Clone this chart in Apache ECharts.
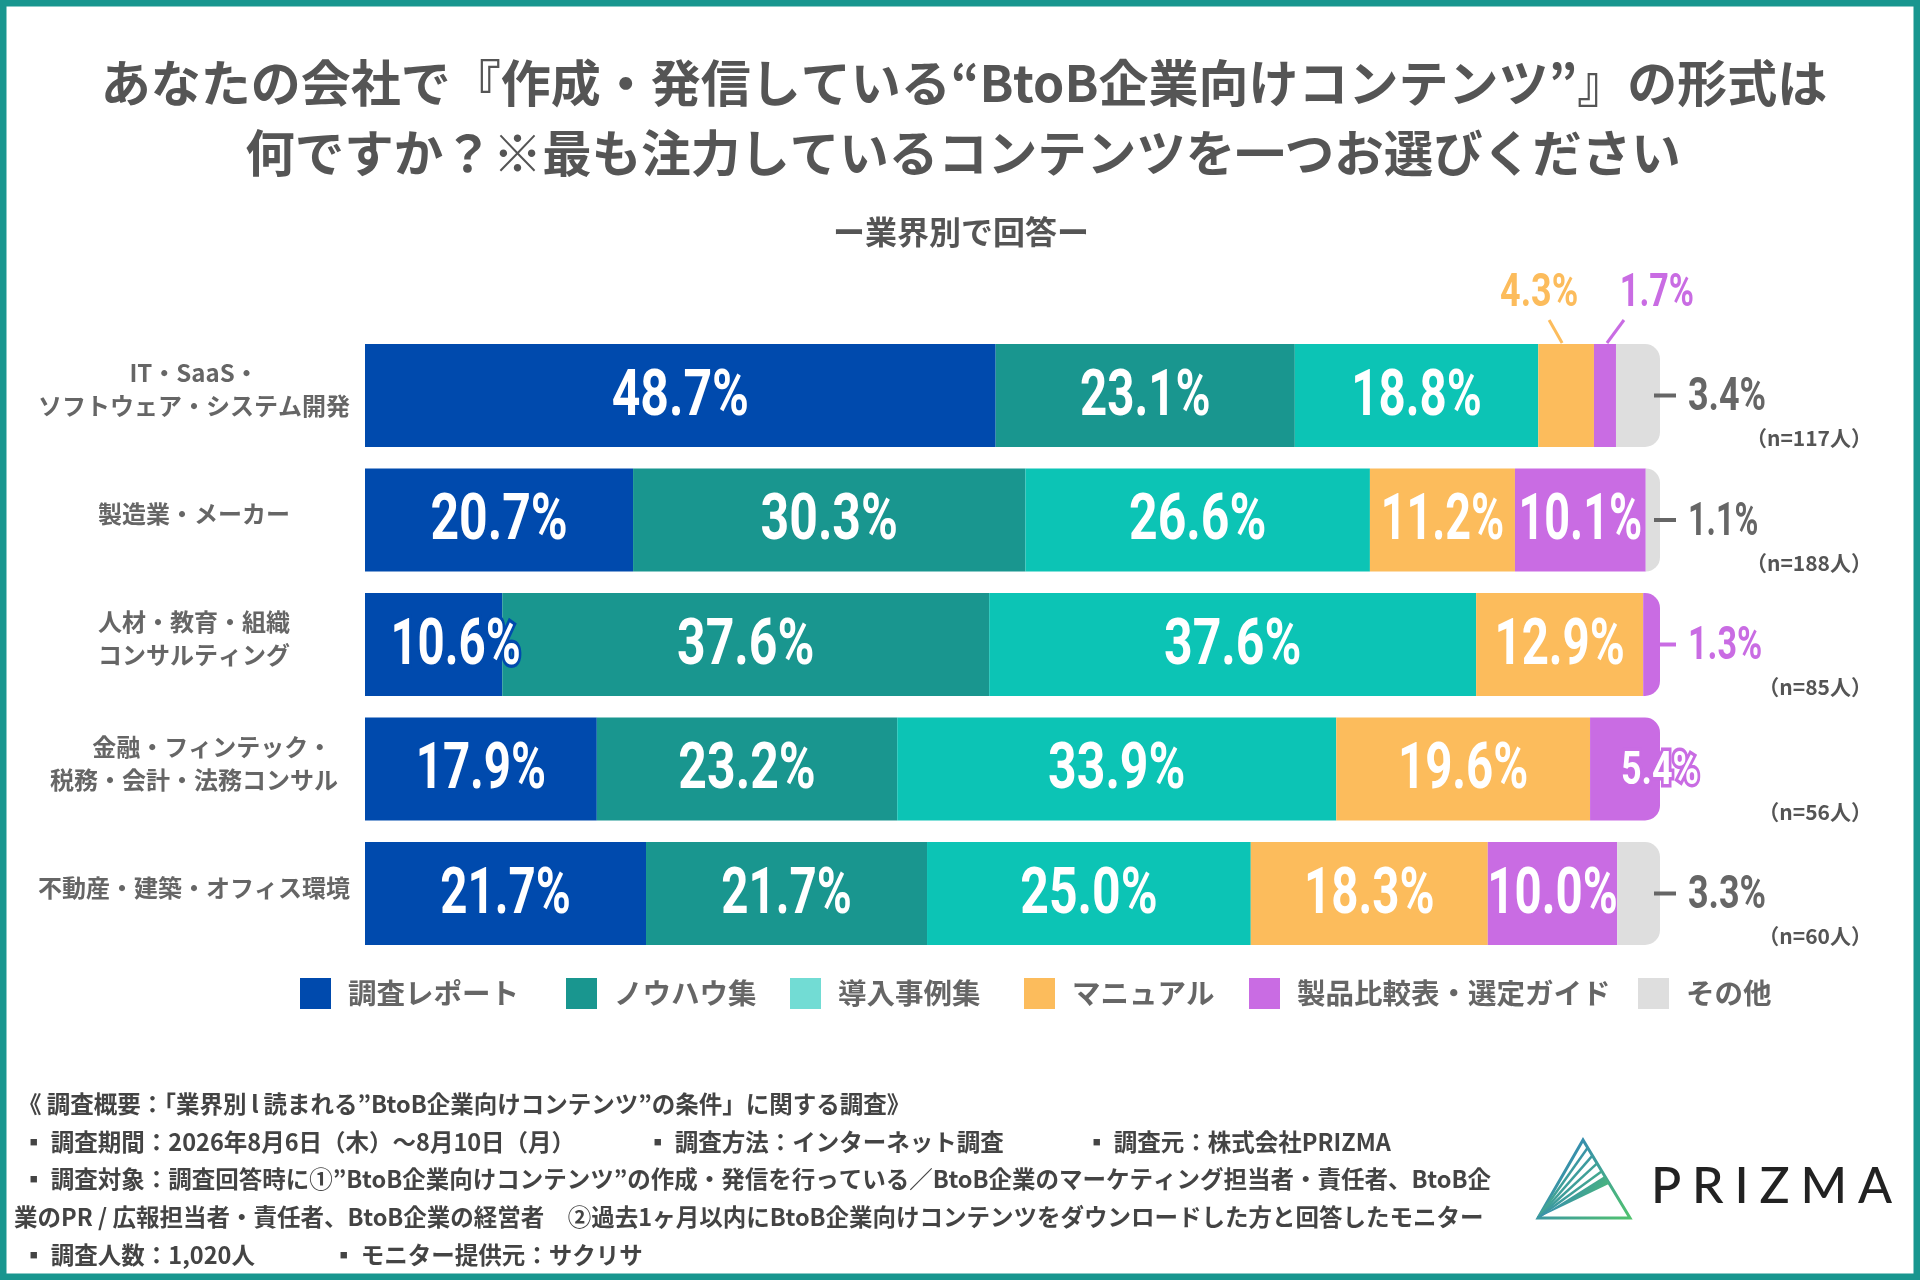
<!DOCTYPE html>
<html><head><meta charset="utf-8">
<script src="https://cdn.jsdelivr.net/npm/echarts@6/dist/echarts.min.js"></script>
<style>html,body{margin:0;padding:0;background:#fff}#c{width:1920px;height:1280px}</style>
</head><body><div id="c"></div>
<script>
// ---------- data ----------
const categories = [
  'IT・SaaS・\nソフトウェア・システム開発',
  '製造業・メーカー',
  '人材・教育・組織\nコンサルティング',
  '\u3000\u2002金融・フィンテック・\n税務・会計・法務コンサル',
  '不動産・建築・オフィス環境'
];
const seriesNames = ['調査レポート', 'ノウハウ集', '導入事例集', 'マニュアル', '製品比較表・選定ガイド', 'その他'];
const report  = [48.7, 20.7, 10.6, 17.9, 21.7];
const knowhow = [23.1, 30.3, 37.6, 23.2, 21.7];
const cases   = [18.8, 26.6, 37.6, 33.9, 25.0];
const manual  = [4.3, 11.2, 12.9, 19.6, 18.3];
const compare = [1.7, 10.1, 1.3, 5.4, 10.0];
const other   = [3.4, 1.1, 0, 0, 3.3];
const sampleSizes = ['（n=117人）', '（n=188人）', '（n=85人）', '（n=56人）', '（n=60人）'];

// ---------- style ----------
const colors = ['#004aad', '#19968f', '#0cc4b5', '#fcbc5c', '#c96ce3', '#dedede'];
const legendColors = ['#004aad', '#19968f', '#72dcd4', '#fcbc5c', '#c96ce3', '#dedede'];
const legendLefts = [300, 566, 790, 1024, 1249, 1638];
const values = [report, knowhow, cases, manual, compare, other];
const BAR_H = 103;
const BIG_FONT = 'bold 64px Roboto';
const MID_FONT = 'bold 46px Roboto';
const SX = 0.78;
// label placement for small segments (row-series)
const labelMode = { '0-3': 'top', '0-4': 'top', '0-5': 'right', '1-5': 'right', '2-4': 'right', '3-4': 'edge', '4-5': 'right', '2-0': 'shift' };
const topOffsets = { '0-3': { t: -27, l1: -17, l2: -4 }, '0-4': { t: 52, l1: 19, l2: 2 } };

const lastIdx = categories.map((_, r) => { let k = -1; values.forEach((arr, s) => { if (arr[r] > 0) k = s; }); return k; });

const barSeries = seriesNames.map((name, s) => ({
  name, type: 'bar', stack: 'total', barWidth: BAR_H, silent: true,
  itemStyle: { color: colors[s] },
  data: values[s].map((v, r) => ({ value: v, itemStyle: { borderRadius: s === lastIdx[r] ? [0, 15, 15, 0] : 0 } }))
}));

// label data: [start, row, value, seriesIndex]
const labelData = [];
categories.forEach((_, r) => {
  let cum = 0;
  values.forEach((arr, s) => {
    const v = arr[r];
    if (v > 0) labelData.push([cum, r, v, s]);
    cum += v;
  });
});

function sxFor(text) { const n1 = (text.match(/1/g) || []).length; return SX * (1 - 0.05 * n1); }
function txt(x, y, text, font, fill, align) {
  return { type: 'text', x, y, scaleX: sxFor(text), style: { text, font, fill, align: align || 'center', verticalAlign: 'middle' } };
}
function strokedTxt(x, y, text, font, strokeColor, align) {
  const sx = sxFor(text);
  return [
    { type: 'text', x, y, scaleX: sx, style: { text, font, fill: strokeColor, stroke: strokeColor, lineWidth: 7, lineJoin: 'round', align: align || 'center', verticalAlign: 'middle' } },
    { type: 'text', x, y, scaleX: sx, style: { text, font, fill: '#fff', align: align || 'center', verticalAlign: 'middle' } }
  ];
}

function renderLabel(params, api) {
  const start = api.value(0), r = api.value(1), v = api.value(2), s = api.value(3);
  const p0 = api.coord([start, r]);
  const p1 = api.coord([start + v, r]);
  const cx = (p0[0] + p1[0]) / 2, cy = p0[1] + 3;
  const barTop = p0[1] - BAR_H / 2;
  const key = r + '-' + s;
  const mode = labelMode[key] || 'inside';
  const label = v.toFixed(1) + '%';
  const ch = [];
  if (mode === 'inside') {
    ch.push(txt(cx, cy, label, BIG_FONT, '#fff'));
  } else if (mode === 'shift') {
    ch.push(...strokedTxt(cx + 22, cy, label, BIG_FONT, colors[s]));
  } else if (mode === 'edge') {
    ch.push(...strokedTxt(p1[0], cy, label, MID_FONT, colors[s]));
  } else if (mode === 'right') {
    const c = s === 5 ? '#666666' : colors[s];
    ch.push({ type: 'line', shape: { x1: p1[0] - 6, y1: p0[1], x2: p1[0] + 16, y2: p0[1] }, style: { stroke: c, lineWidth: 4 } });
    ch.push(txt(p1[0] + 28, cy, label, MID_FONT, c, 'left'));
  } else if (mode === 'top') {
    const o = topOffsets[key];
    ch.push({ type: 'line', shape: { x1: cx + o.l1, y1: barTop - 24, x2: cx + o.l2, y2: barTop - 1 }, style: { stroke: colors[s], lineWidth: 3 } });
    ch.push(txt(cx + o.t, barTop - 50, label, MID_FONT, colors[s]));
  }
  return { type: 'group', children: ch };
}

// row texts: category name (left of bar) and sample size (right of bar)
function renderRowText(params, api) {
  const r = api.value(1);
  const pL = api.coord([0, r]);
  const pR = api.coord([100, r]);
  return { type: 'group', children: [
    { type: 'text', x: pL[0] - 171, y: pL[1] - 6, style: { text: categories[r], font: 'bold 24px "Noto Sans CJK JP"', fill: '#666', align: 'center', verticalAlign: 'middle', lineHeight: 33 } },
    { type: 'text', x: pR[0] + 212, y: pR[1] + 43, style: { text: sampleSizes[r], font: 'bold 21px "Noto Sans CJK JP"', fill: '#555', align: 'right', verticalAlign: 'middle' } }
  ] };
}

// ---------- graphics ----------
const FOOT_FONT = 'bold 23.5px "Noto Sans CJK JP"';
const footer = [
  [18, 1104, '《 調査概要：「業界別\u2009l\u2009読まれる”BtoB企業向けコンテンツ”の条件」に関する調査》'],
  [22, 1142, '▪ 調査期間：2026年8月6日（木）～8月10日（月）'],
  [646, 1142, '▪ 調査方法：インターネット調査'],
  [1085, 1142, '▪ 調査元：株式会社PRIZMA'],
  [22, 1179, '▪ 調査対象：調査回答時に①”BtoB企業向けコンテンツ”の作成・発信を行っている／BtoB企業のマーケティング担当者・責任者、BtoB企'],
  [14, 1217, '業のPR / 広報担当者・責任者、BtoB企業の経営者　②過去1ヶ月以内にBtoB企業向けコンテンツをダウンロードした方と回答したモニター'],
  [22, 1255, '▪ 調査人数：1,020人'],
  [332, 1255, '▪ モニター提供元：サクリサ']
];

const graphics = [
  { type: 'rect', shape: { x: 3, y: 3, width: 1914, height: 1274 }, style: { fill: 'none', stroke: '#19968f', lineWidth: 7 }, silent: true },
  { type: 'text', x: 964, y: 83, style: { text: 'あなたの会社で『作成・発信している“BtoB企業向けコンテンツ”』の形式は', font: 'bold 50px "Noto Sans CJK JP"', fill: '#555', align: 'center', verticalAlign: 'middle' } },
  { type: 'text', x: 963, y: 153, style: { text: '何ですか？※最も注力しているコンテンツを一つお選びください', font: 'bold 49.5px "Noto Sans CJK JP"', fill: '#555', align: 'center', verticalAlign: 'middle' } },
  { type: 'text', x: 961, y: 232, style: { text: 'ー業界別で回答ー', font: 'bold 32px "Noto Sans CJK JP"', fill: '#555', align: 'center', verticalAlign: 'middle' } }
];
footer.forEach(f => graphics.push({ type: 'text', x: f[0], y: f[1], style: { text: f[2], font: FOOT_FONT, fill: '#444', align: 'left', verticalAlign: 'middle' } }));

// logo
const grad = () => new echarts.graphic.LinearGradient(0, 0, 1, 1, [{ offset: 0, color: '#2b78c8' }, { offset: 1, color: '#52c46c' }]);
const A = [1583, 1140], BL = [1538, 1218], BR = [1630, 1218];
const onRight = t => [A[0] + (BR[0] - A[0]) * t, A[1] + (BR[1] - A[1]) * t];
graphics.push({ type: 'polygon', shape: { points: [A, BL, BR] }, style: { fill: 'none', stroke: grad(), lineWidth: 3, lineJoin: 'miter' } });
[0.1, 0.2, 0.3, 0.4].forEach(t => { const p = onRight(t); graphics.push({ type: 'line', shape: { x1: BL[0], y1: BL[1], x2: p[0], y2: p[1] }, style: { stroke: grad(), lineWidth: 2.5 } }); });
graphics.push({ type: 'polygon', shape: { points: [BL, onRight(0.46), onRight(0.56)] }, style: { fill: grad() } });
(function () {
  const letters = 'PRIZMA'.split('');
  const font = '500 50px Lato';
  const cv = document.createElement('canvas').getContext('2d'); cv.font = font;
  const widths = letters.map(l => cv.measureText(l).width);
  const total = 241; const sum = widths.reduce((a, b) => a + b, 0);
  const gap = (total - sum) / (letters.length - 1);
  let x = 1651;
  graphics.push({ type: 'text', x: x, y: 1187, style: { text: 'PRIZMA', font: font, fill: 'transparent', align: 'left', verticalAlign: 'middle' } });
  letters.forEach((l, i) => { graphics.push({ type: 'text', x: x, y: 1187, silent: true, style: { text: l, font: font, fill: '#222', align: 'left', verticalAlign: 'middle' } }); x += widths[i] + gap; });
})();

const legends = seriesNames.map((n, i) => ({
  left: legendLefts[i], top: 978, itemWidth: 31, itemHeight: 31, icon: 'rect', padding: 0, selectedMode: false,
  textStyle: { fontSize: 28.5, fontWeight: 'bold', color: '#666', fontFamily: 'Noto Sans CJK JP', padding: [0, 0, 0, 12] },
  data: [{ name: n, itemStyle: { color: legendColors[i] } }]
}));

const chart = echarts.init(document.getElementById('c'), null, { renderer: 'canvas' });
chart.setOption({
  animation: false,
  backgroundColor: '#fff',
  grid: { left: 365, right: 260, top: 333.25, height: 622.5 },
  xAxis: { type: 'value', min: 0, max: 100, show: false },
  yAxis: {
    type: 'category', data: categories, inverse: true,
    axisLine: { show: false }, axisTick: { show: false }, splitLine: { show: false }, axisLabel: { show: false }
  },
  legend: legends,
  graphic: graphics,
  series: [
    ...barSeries,
    { type: 'custom', name: 'labels', renderItem: renderLabel, data: labelData, encode: { x: 0, y: 1 }, z: 10, clip: false, silent: true },
    { type: 'custom', name: 'rows', renderItem: renderRowText, data: categories.map((_, r) => [100, r]), encode: { x: 0, y: 1 }, z: 10, clip: false, silent: true }
  ]
});
</script></body></html>
